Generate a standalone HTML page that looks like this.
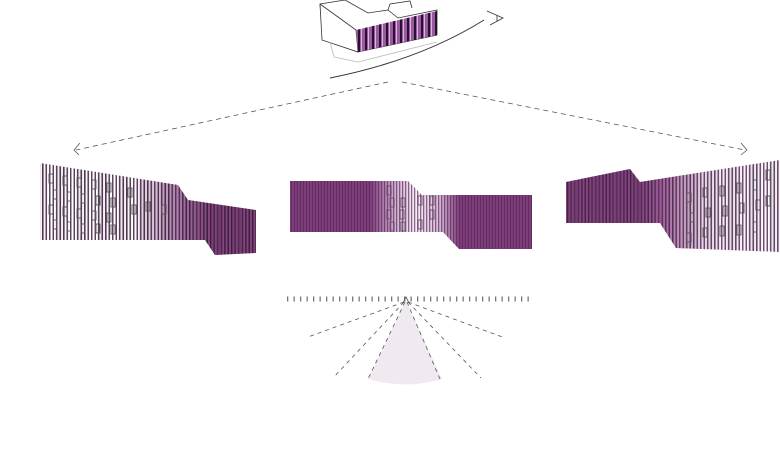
<!DOCTYPE html>
<html><head><style>html,body{margin:0;padding:0;background:#fff}svg{display:block}</style></head>
<body>
<svg width="780" height="453" viewBox="0 0 780 453" xmlns="http://www.w3.org/2000/svg">
<defs>
<pattern id="st" width="3.5" height="10" patternUnits="userSpaceOnUse"><rect x="0" y="0" width="1.5" height="10" fill="#2e1a2e"/></pattern>
<pattern id="stR" width="3.5" height="10" patternUnits="userSpaceOnUse"><rect x="0" y="0" width="1.5" height="10" fill="#3a1f3a"/></pattern>
<pattern id="st2" width="3" height="10" patternUnits="userSpaceOnUse"><rect x="0" y="0" width="1.2" height="10" fill="#5c2a5c" opacity="0.7"/></pattern>
<pattern id="pk" width="3" height="10" patternUnits="userSpaceOnUse"><rect x="1.5" y="0" width="0.8" height="10" fill="#b070b0" opacity="0.35"/></pattern>
<pattern id="tb" width="7" height="10" patternUnits="userSpaceOnUse"><rect width="7" height="10" fill="#9a5aa0"/><rect x="1" width="2" height="10" fill="#2a1030"/><rect x="4" width="1" height="10" fill="#d9b8e0"/></pattern>
<linearGradient id="gL" x1="40" x2="210" y1="0" y2="0" gradientUnits="userSpaceOnUse">
<stop offset="0" stop-color="#fff"/><stop offset="0.55" stop-color="#fff"/><stop offset="0.85" stop-color="#a06a9e"/><stop offset="1" stop-color="#7a3a76"/></linearGradient>
<linearGradient id="gR" x1="780" x2="640" y1="0" y2="0" gradientUnits="userSpaceOnUse">
<stop offset="0" stop-color="#fff"/><stop offset="0.5" stop-color="#f2e8f2"/><stop offset="0.85" stop-color="#9a5a96"/><stop offset="1" stop-color="#7a3a76"/></linearGradient>
<linearGradient id="gM" x1="290" x2="532" y1="0" y2="0" gradientUnits="userSpaceOnUse">
<stop offset="0" stop-color="#763572"/><stop offset="0.33" stop-color="#763572"/><stop offset="0.42" stop-color="#c9a8c8"/><stop offset="0.52" stop-color="#fff"/><stop offset="0.62" stop-color="#d9c0d8"/><stop offset="0.7" stop-color="#763572"/><stop offset="1" stop-color="#763572"/></linearGradient>
</defs>

<g stroke="#333" stroke-width="0.8" fill="#fff">
<polygon points="320,4 345,0 368,13 388,10 398,18 437,10 437,35 358,52 323,40"/>
<polyline points="320,4 322,40 358,52 356,30 320,4" fill="#fff"/>
<polygon points="356,30 437,11 437,35 358,52" fill="url(#tb)" stroke="none"/>
<polyline points="388,10 390,4 410,1 412,8" fill="none"/>
<polyline points="330,42 334,57 358,62 437,42" fill="none" stroke="#bbb"/>
</g>
<path d="M330,78 Q420,60 484,20" stroke="#333" stroke-width="1" fill="none"/>
<path d="M487,11 L503,18 L490,25 M497,15 L497,21" stroke="#333" stroke-width="0.8" fill="none"/>

<g stroke="#555" stroke-width="0.8" stroke-dasharray="5,4" fill="none">
<line x1="388" y1="82" x2="76" y2="150"/>
<line x1="402" y1="82" x2="745" y2="150"/>
</g>
<path d="M80,143 L74,150 L79,155" stroke="#555" stroke-width="0.8" fill="none"/>
<path d="M741,143 L747,150 L741,155" stroke="#555" stroke-width="0.8" fill="none"/>

<polygon points="40,163 178,185 188,200 256,210 256,253 215,255 205,240 40,240" fill="url(#gL)"/>
<polygon points="40,163 178,185 188,200 256,210 256,253 215,255 205,240 40,240" fill="url(#st)" opacity="0.85"/>
<polygon points="40,163 178,185 188,200 256,210 256,253 215,255 205,240 40,240" fill="url(#pk)"/>
<g fill="none" stroke="#555" stroke-width="0.9">
<rect x="49" y="174" width="4" height="9"/><rect x="53" y="190" width="4" height="9"/><rect x="49" y="205" width="4" height="9"/><rect x="53" y="220" width="4" height="9"/>
<rect x="63" y="176" width="4" height="9"/><rect x="67" y="192" width="4" height="9"/><rect x="63" y="207" width="4" height="9"/><rect x="67" y="222" width="4" height="9"/>
<rect x="77" y="178" width="4" height="9"/><rect x="81" y="194" width="4" height="9"/><rect x="77" y="209" width="4" height="9"/><rect x="81" y="224" width="4" height="9"/>
<rect x="92" y="180" width="4" height="9"/><rect x="96" y="196" width="4" height="9"/><rect x="92" y="211" width="4" height="9"/><rect x="96" y="224" width="4" height="9"/>
<rect x="107" y="183" width="4" height="9"/><rect x="111" y="198" width="4" height="9"/><rect x="107" y="213" width="4" height="9"/><rect x="111" y="225" width="4" height="9"/>
<rect x="128" y="188" width="4" height="9"/><rect x="132" y="205" width="4" height="9"/><rect x="146" y="202" width="4" height="9"/><rect x="162" y="205" width="4" height="9"/>
</g>

<polygon points="290,181 408,181 422,195 532,195 532,249 459,249 443,232 290,232" fill="url(#gM)"/>
<polygon points="290,181 408,181 422,195 532,195 532,249 459,249 443,232 290,232" fill="url(#st2)"/>
<polygon points="290,181 408,181 422,195 532,195 532,249 459,249 443,232 290,232" fill="url(#pk)"/>
<g fill="none" stroke="#6a4a6a" stroke-width="0.9">
<rect x="387" y="186" width="4" height="9"/><rect x="390" y="198" width="4" height="9"/><rect x="387" y="210" width="4" height="9"/><rect x="390" y="222" width="4" height="9"/>
<rect x="401" y="198" width="4" height="9"/><rect x="401" y="222" width="4" height="9"/><rect x="400" y="210" width="4" height="9"/>
<rect x="418" y="196" width="4" height="9"/><rect x="418" y="220" width="4" height="9"/><rect x="430" y="196" width="4" height="9"/><rect x="430" y="210" width="4" height="9"/>
</g>

<polygon points="566,182 630,169 640,182 780,160 780,252 676,248 660,223 566,223" fill="url(#gR)"/>
<polygon points="566,182 630,169 640,182 780,160 780,252 676,248 660,223 566,223" fill="url(#stR)" opacity="0.8"/>
<polygon points="566,182 630,169 640,182 780,160 780,252 676,248 660,223 566,223" fill="url(#pk)"/>
<g fill="none" stroke="#555" stroke-width="0.9">
<rect x="687" y="193" width="4" height="9"/><rect x="690" y="213" width="4" height="9"/><rect x="687" y="233" width="4" height="9"/>
<rect x="703" y="188" width="4" height="9"/><rect x="706" y="208" width="4" height="9"/><rect x="703" y="228" width="4" height="9"/>
<rect x="720" y="186" width="4" height="10"/><rect x="723" y="206" width="4" height="10"/><rect x="720" y="226" width="4" height="10"/>
<rect x="737" y="183" width="4" height="10"/><rect x="740" y="203" width="4" height="10"/><rect x="737" y="225" width="4" height="10"/>
<rect x="753" y="180" width="4" height="10"/><rect x="756" y="200" width="4" height="10"/><rect x="753" y="222" width="4" height="10"/>
<rect x="766" y="170" width="4" height="10"/><rect x="766" y="196" width="4" height="10"/>
</g>

<path d="M406,301 L368,379 Q405,390 442,379 Z" fill="#f1e9f1"/>
<line x1="287" y1="299" x2="533" y2="299" stroke="#777" stroke-width="5" stroke-dasharray="1.3,5.2"/>
<g stroke="#555" stroke-width="0.8" stroke-dasharray="4,4" fill="none">
<line x1="404" y1="302" x2="308" y2="337"/>
<line x1="408" y1="302" x2="505" y2="338"/>
<line x1="404" y1="302" x2="333" y2="378"/>
<line x1="408" y1="302" x2="481" y2="378"/>
<line x1="405" y1="302" x2="368" y2="379"/>
<line x1="407" y1="302" x2="440" y2="379"/>
</g>
<path d="M403,303 L406,297 L409,303" stroke="#444" stroke-width="0.8" fill="none"/>
</svg>
</body></html>
